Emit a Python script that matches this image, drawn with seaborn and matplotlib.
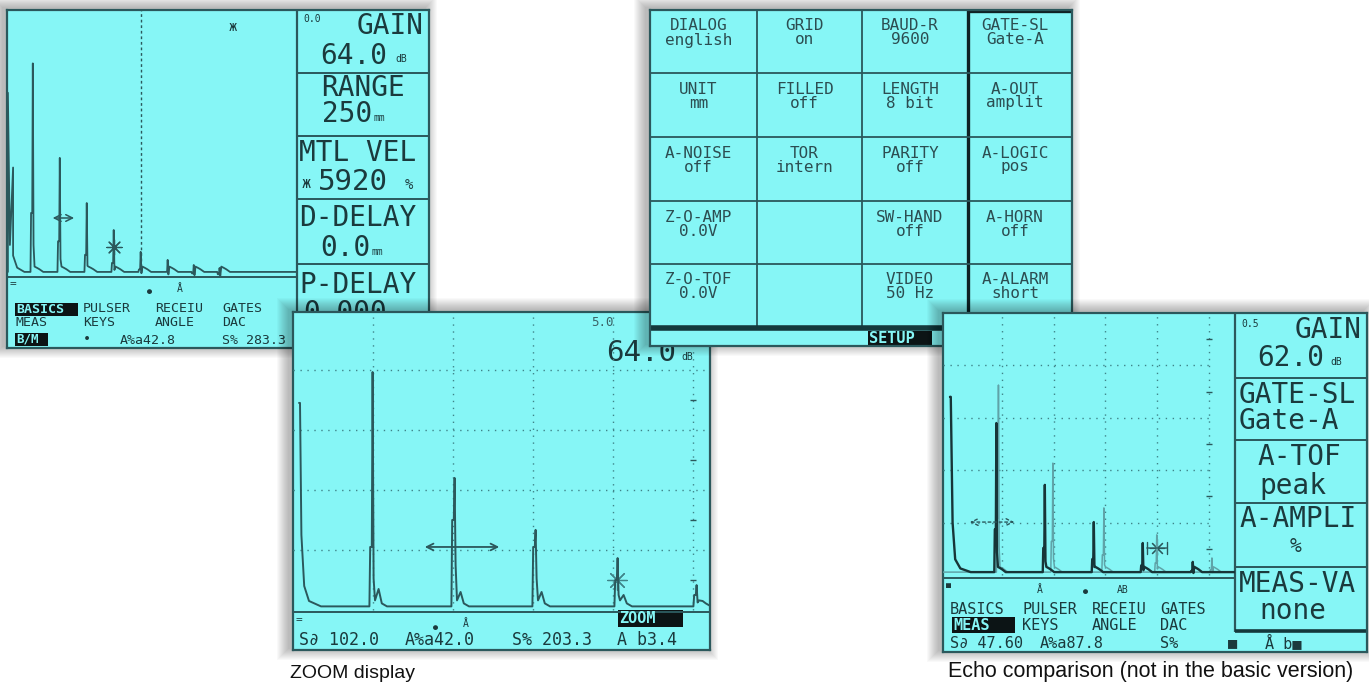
import matplotlib
matplotlib.use("Agg")
import matplotlib.pyplot as plt
from matplotlib.patches import Rectangle
import pandas as pd
import seaborn as sns

sns.set_theme(style="white")
plt.rcParams['font.family'] = ['DejaVu Sans Mono', 'DejaVu Sans']

W, H = 1369, 687
CYAN = '#86f6f6'
INK = '#1b3a3d'
LINE = '#2b585c'
DOT = '#3f8489'
REF = '#5fa3a8'

# ---------------- data (x = % of screen width, y = % screen height) ----------
# overview A-scan (top left)
p1_init_x = [0.3, 0.3, 1.0, 2.1, 2.1, 3.5, 6.0]
p1_init_y = [1.9, 69.0, 12.0, 41.0, 8.0, 3.5, 1.9]
p1_echo_pos = [9.0, 18.3, 27.6, 36.9, 46.2, 55.5, 64.5, 73.4]
p1_echo_amp = [80.0, 44.6, 27.7, 17.6, 9.4, 6.4, 4.5, 3.4]
p1_base = 1.9
p1_cursor = 46.2
p1_arrow = [14.8, 24.1, 22.1]      # x from, x to, y
p1_star = [36.9, 11.2]
p1_mark = [77.9, 93.6]

# ZOOM display
zm_init_x = [1.5, 1.75, 2.1, 2.8, 4.0, 7.0]
zm_init_y = [69.0, 69.0, 25.0, 8.0, 3.0, 1.2]
zm_echo_pos = [20.0, 40.5, 60.75, 81.25, 101.0]
zm_echo_amp = [79.3, 44.0, 26.7, 17.3, 8.3]
zm_echo_step = [21.0, 30.0, 21.0, 10.0, 5.0]
zm_echo_tail = [7.0, 6.0, 6.0, 5.0, 3.0]
zm_base = 1.2
zm_grid_x = [20, 40, 60, 80, 100]
zm_grid_y = [20, 40, 60, 80]
zm_ticks_y = [10, 30, 50, 70, 90]
zm_arrow = [32.25, 52.25, 21.0]
zm_star = [81.0, 10.0]

# echo comparison
ec_init_x = [0.0, 0.3, 1.0, 2.0, 4.0, 8.0]
ec_init_y = [68.0, 68.0, 20.0, 6.0, 2.5, 1.1]
ec_live_pos = [18.0, 36.7, 55.6, 74.5, 93.8]
ec_live_amp = [58.0, 34.4, 20.2, 12.2, 5.0]
ec_ref_pos = [18.8, 39.8, 59.5, 79.9, 101.2]
ec_ref_amp = [72.5, 42.7, 25.6, 15.3, 6.5]
ec_base = 1.1
ec_grid_x = [20, 40, 60, 80, 100]
ec_grid_y = [20, 40, 60, 80]
ec_ticks_y = [10, 30, 50, 70, 90]
ec_arrow = [6.6, 25.9, 20.2]
ec_star = [79.9, 10.3]

# setup menu (columns of the 5x4 table)
setup_top = ['DIALOG', 'UNIT', 'A-NOISE', 'Z-O-AMP', 'Z-O-TOF',
             'GRID', 'FILLED', 'TOR', '', '',
             'BAUD-R', 'LENGTH', 'PARITY', 'SW-HAND', 'VIDEO',
             'GATE-SL', 'A-OUT', 'A-LOGIC', 'A-HORN', 'A-ALARM']
setup_val = ['english', 'mm', 'off', '0.0V', '0.0V',
             'on', 'off', 'intern', '', '',
             '9600', '8 bit', 'off', 'off', '50 Hz',
             'Gate-A', 'amplit', 'pos', 'off', 'short']


def to_fig(x0, y0, x1, y1):
    return [x0 / W, 1 - y1 / H, (x1 - x0) / W, (y1 - y0) / H]


def shadow(fig, box, z):
    x0, y0, x1, y1 = box
    for k in range(12, 0, -1):
        r = Rectangle(((x0 - 4 - k) / W, 1 - (y1 - 2 + k) / H),
                      (x1 - x0 + 2 * k) / W, (y1 - y0 + 2 * k) / H,
                      transform=fig.transFigure, color='black', alpha=0.022,
                      lw=0, zorder=z)
        fig.add_artist(r)


def screen(fig, box, z):
    shadow(fig, box, z - 0.5)
    x0, y0, x1, y1 = box
    ax = fig.add_axes(to_fig(*box), zorder=z)
    ax.set_xlim(x0, x1)
    ax.set_ylim(y1, y0)
    ax.set_facecolor(CYAN)
    ax.set_xticks([])
    ax.set_yticks([])
    for s in ax.spines.values():
        s.set_color(LINE)
        s.set_linewidth(1.6)
    return ax


def scope(fig, box, z, xlim, ylim):
    ax = fig.add_axes(to_fig(*box), zorder=z)
    ax.set_xlim(*xlim)
    ax.set_ylim(*ylim)
    ax.set_axis_off()
    return ax


def t(ax, x, y, s, size=12, ha='left', color=INK, **kw):
    ax.text(x, y, s, fontsize=size, ha=ha, va='center', color=color, **kw)


def hl(ax, x0, y0, x1, y1, s, size=12):
    ax.add_patch(Rectangle((x0, y0), x1 - x0, y1 - y0, color='#0c1415', lw=0))
    t(ax, x0 + 1, (y0 + y1) / 2, s, size, color=CYAN, fontweight='bold')


def words(ax, y, xs, labels, size):
    for x, s in zip(xs, labels):
        t(ax, x, y, s, size)


def echo_trace(init_x, init_y, pos, amp, base, end, step=None, tail=None):
    xs, ys = list(init_x), list(init_y)
    for i, (p, h) in enumerate(zip(pos, amp)):
        s = step[i] if step else h * 0.3
        tl = tail[i] if tail else base + 1.5
        xs += [p - 0.9, p - 0.7, p - 0.3, p - 0.1, p + 0.15, p + 0.5,
               p + 1.4, p + 2.2, p + 3.5]
        ys += [base, s, s, h, s * 0.5, base + 2, tl, base + 1, base]
    xs.append(max(end, xs[-1] + 1))
    ys.append(base)
    return pd.DataFrame({"x": xs, "y": ys})


fig = plt.figure(figsize=(W / 100, H / 100), dpi=100)
fig.patch.set_facecolor('white')

# ================= panel 1 : overview ======================================
b1 = (7, 10, 429, 348)
a1 = screen(fig, b1, 10)
a1.vlines(297, 10, 348, color=LINE, lw=1.6)
a1.hlines(277, 7, 297, color=LINE, lw=1.4)
a1.hlines([73, 136, 199, 264], 297, 429, color=LINE, lw=1.4)
t(a1, 303, 19, "0.0", 7)
t(a1, 424, 26, "GAIN", 20, ha='right')
t(a1, 320, 56, "64.0", 20)
t(a1, 395, 59, "dB", 7)
t(a1, 363, 88, "RANGE", 20, ha='center')
t(a1, 322, 114, "250", 20)
t(a1, 374, 118, "mm", 7)
t(a1, 299, 153, "MTL VEL", 20)
t(a1, 302, 183, "ж", 11)
t(a1, 318, 182, "5920", 21)
t(a1, 405, 185, "%", 10)
t(a1, 299, 218, "D-DELAY", 20)
t(a1, 320, 248, "0.0", 20)
t(a1, 372, 252, "mm", 7)
t(a1, 299, 285, "P-DELAY", 20)
t(a1, 303, 313, "0.000", 20)
t(a1, 10, 284, "=", 8)
t(a1, 149, 291, "●", 6, ha='center')
t(a1, 180, 289, "Å", 7, ha='center')
hl(a1, 15, 303, 78, 316, "BASICS", 9.5)
words(a1, 309, [83, 155, 222], ["PULSER", "RECEIU", "GATES"], 9.5)
words(a1, 322, [15, 83, 155, 222], ["MEAS", "KEYS", "ANGLE", "DAC"], 9.5)
hl(a1, 15, 333, 48, 346, "B/M", 9)
words(a1, 340, [83, 120, 222], ["•", "A%a42.8", "S% 283.3"], 9.5)

s1 = scope(fig, (7, 10, 297, 277), 11, (0, 100), (0, 100))
df1 = echo_trace(p1_init_x, p1_init_y, p1_echo_pos, p1_echo_amp, p1_base, 100)
sns.lineplot(data=df1, x="x", y="y", ax=s1, sort=False, estimator=None,
             color=LINE, linewidth=1.3)
s1.vlines(p1_cursor, p1_base, 100, color=LINE, lw=1.0, linestyles=(0, (2, 2)))
s1.annotate("", xy=(p1_arrow[1], p1_arrow[2]), xytext=(p1_arrow[0], p1_arrow[2]),
            arrowprops=dict(arrowstyle="<->", color=LINE, lw=1.1))
sns.scatterplot(x=[p1_star[0]], y=[p1_star[1]], ax=s1, marker=(8, 2, 0), s=120,
                color=LINE, linewidth=0.9)
s1.text(p1_mark[0], p1_mark[1], "ж", fontsize=10, color=INK, ha='center', va='center')

# ================= panel 2 : ZOOM display ==================================
b2 = (293, 312, 710, 650)
a2 = screen(fig, b2, 20)
a2.hlines(612, 293, 710, color=LINE, lw=1.4)
t(a2, 591, 322, "5.0", 9, color='#3b6266')
t(a2, 606, 353, "64.0", 21)
t(a2, 681, 357, "dB", 7)
t(a2, 296, 620, "=", 8)
t(a2, 435, 627, "●", 6, ha='center')
t(a2, 466, 624, "Å", 7, ha='center')
hl(a2, 618, 610, 683, 627, "ZOOM", 11)
words(a2, 640, [299, 405, 512, 617], ["S∂ 102.0", "A%a42.0", "S% 203.3", "A b3.4"], 12)

s2 = scope(fig, (293, 312, 710, 612), 21, (0, 104.25), (-0.67, 99.3))
s2.vlines(zm_grid_x, 0, 100, color=DOT, lw=1.0, linestyles=(0, (1, 4)))
s2.hlines(zm_grid_y, 0, 104.25, color=DOT, lw=1.0, linestyles=(0, (1, 4)))
s2.hlines(zm_ticks_y, 99.3, 100.7, color=LINE, lw=1.0)
df2 = echo_trace(zm_init_x, zm_init_y, zm_echo_pos, zm_echo_amp, zm_base, 104.25,
                 zm_echo_step, zm_echo_tail)
sns.lineplot(data=df2, x="x", y="y", ax=s2, sort=False, estimator=None,
             color=LINE, linewidth=1.4)
s2.annotate("", xy=(zm_arrow[1], zm_arrow[2]), xytext=(zm_arrow[0], zm_arrow[2]),
            arrowprops=dict(arrowstyle="<->", color=LINE, lw=1.3))
sns.scatterplot(x=[zm_star[0]], y=[zm_star[1]], ax=s2, marker=(8, 2, 0), s=200,
                color=DOT, linewidth=0.9)

# ================= panel 3 : SETUP table ===================================
b3 = (650, 10, 1072, 346)
a3 = screen(fig, b3, 30)
col_x = [650, 757, 862, 968, 1072]
row_y = [10, 73, 137, 201, 264, 326]
a3.vlines(col_x[1:3], 10, 326, color=LINE, lw=1.3)
a3.vlines(col_x[3], 10, 326, color='#0f2224', lw=2.4)
a3.hlines(row_y[1:5], 650, 1072, color=LINE, lw=1.3)
a3.hlines(11, 968, 1072, color='#0f2224', lw=2.4)
a3.hlines(328, 650, 1072, color='#14393c', lw=4)
hl(a3, 868, 331, 932, 346, "SETUP", 11)
for i, (top, val) in enumerate(zip(setup_top, setup_val)):
    c, r = divmod(i, 5)
    cx = (col_x[c] + col_x[c + 1]) / 2 - 5
    t(a3, cx, row_y[r] + 16, top, 11.5, ha='center', color='#2c4d51')
    t(a3, cx, row_y[r] + 30, val, 11.5, ha='center', color='#2c4d51')

# ================= panel 4 : echo comparison ===============================
b4 = (943, 313, 1367, 652)
a4 = screen(fig, b4, 40)
a4.vlines(1235, 313, 632, color=LINE, lw=1.6)
a4.hlines(578, 943, 1235, color=LINE, lw=1.4)
a4.hlines([378, 440, 503, 567], 1235, 1367, color=LINE, lw=1.4)
a4.hlines(631, 1235, 1367, color='#14393c', lw=2.6)
t(a4, 1241, 324, "0.5", 7)
t(a4, 1362, 330, "GAIN", 20, ha='right')
t(a4, 1257, 358, "62.0", 20)
t(a4, 1330, 362, "dB", 7)
t(a4, 1239, 395, "GATE-SL", 20)
t(a4, 1239, 421, "Gate-A", 20)
t(a4, 1299, 457, "A-TOF", 20, ha='center')
t(a4, 1293, 486, "peak", 20, ha='center')
t(a4, 1239, 519, "A-AMPLI", 20)
t(a4, 1296, 546, "%", 14, ha='center')
t(a4, 1239, 584, "MEAS-VA", 20)
t(a4, 1293, 611, "none", 20, ha='center')
t(a4, 946, 585, "■", 6)
t(a4, 1040, 590, "Å", 7, ha='center')
t(a4, 1085, 592, "●", 6, ha='center')
t(a4, 1123, 590, "AB", 7, ha='center')
words(a4, 609, [950, 1022, 1092, 1160], ["BASICS", "PULSER", "RECEIU", "GATES"], 11)
hl(a4, 952, 617, 1015, 633, "MEAS", 11)
words(a4, 625, [1022, 1092, 1160], ["KEYS", "ANGLE", "DAC"], 11)
words(a4, 643, [950, 1040, 1160, 1228, 1265],
      ["S∂ 47.60", "A%a87.8", "S%", "■", "Å b■"], 11)

s4 = scope(fig, (943, 313, 1235, 578), 41, (-2.7, 110), (-1.15, 100))
s4.vlines(ec_grid_x, 0, 100, color=DOT, lw=1.0, linestyles=(0, (1, 4)))
s4.hlines(ec_grid_y, -2.7, 100, color=DOT, lw=1.0, linestyles=(0, (1, 4)))
s4.hlines(ec_ticks_y, 99.0, 101.0, color=LINE, lw=1.0)
df4r = echo_trace([-2.7], [ec_base], ec_ref_pos, ec_ref_amp, ec_base, 110)
df4l = echo_trace(ec_init_x, ec_init_y, ec_live_pos, ec_live_amp, ec_base, 110)
sns.lineplot(data=df4r, x="x", y="y", ax=s4, sort=False, estimator=None,
             color=REF, linewidth=1.1)
sns.lineplot(data=df4l, x="x", y="y", ax=s4, sort=False, estimator=None,
             color='#173538', linewidth=1.7)
s4.annotate("", xy=(ec_arrow[1], ec_arrow[2]), xytext=(ec_arrow[0], ec_arrow[2]),
            arrowprops=dict(arrowstyle="<->", color=LINE, lw=1.0, linestyle=(0, (2, 2))))
s4.annotate("", xy=(ec_star[0] + 5, ec_star[1]), xytext=(ec_star[0] - 5, ec_star[1]),
            arrowprops=dict(arrowstyle="|-|", color=LINE, lw=1.0,
                            mutation_scale=4))
sns.scatterplot(x=[ec_star[0]], y=[ec_star[1]], ax=s4, marker=(8, 2, 0), s=110,
                color=LINE, linewidth=0.8)

# ================= captions ================================================
fig.text(290 / W, 1 - 673 / H, "ZOOM display", fontsize=14, va='center',
         family='Liberation Sans', color='#111111')
fig.text(948 / W, 1 - 672 / H, "Echo comparison (not in the basic version)",
         fontsize=15.5, va='center', family='Liberation Sans', color='#111111')

fig.savefig("out.png", dpi=100)
